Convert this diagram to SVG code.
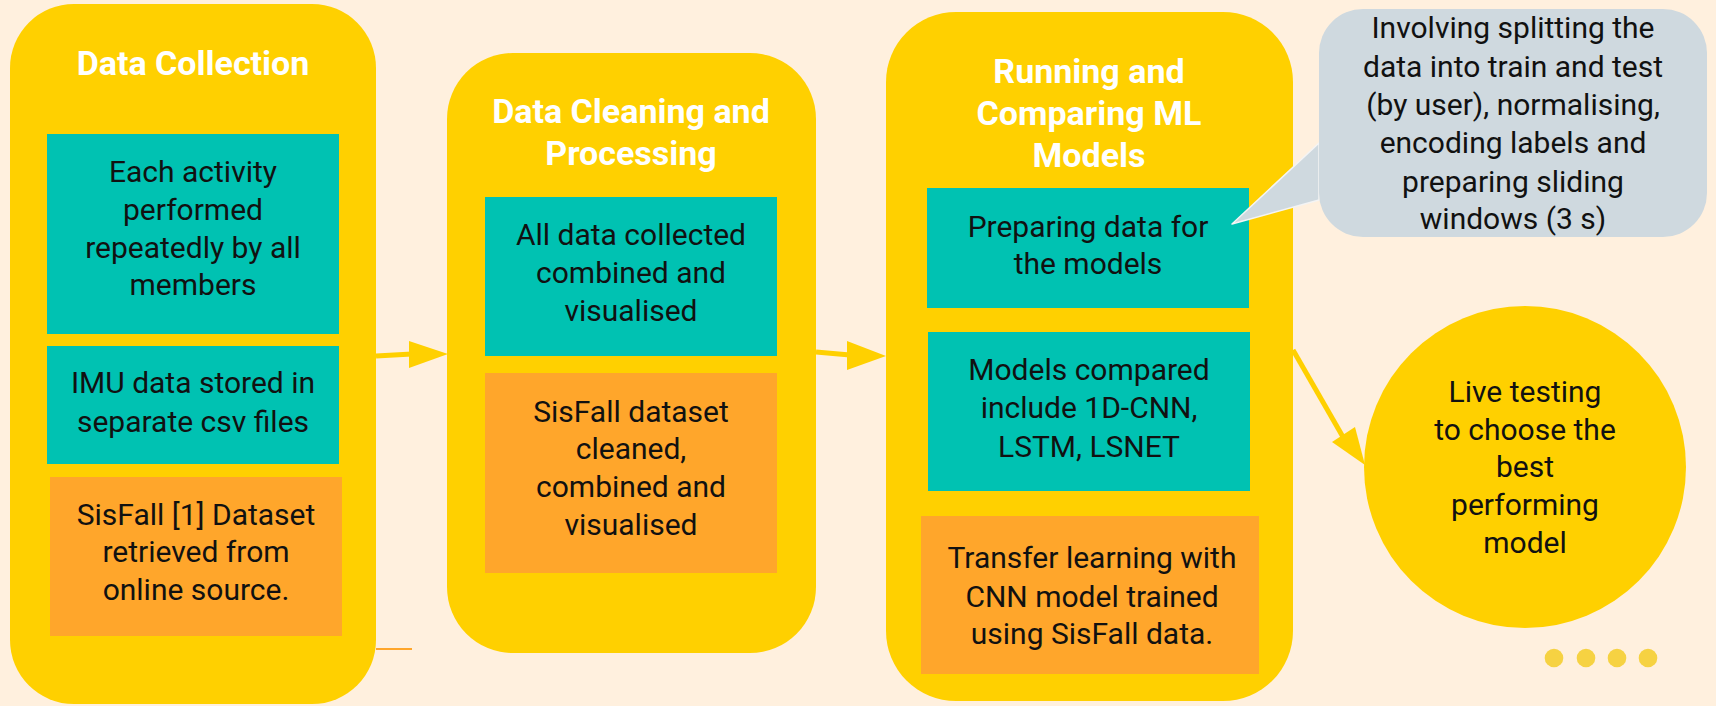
<svg xmlns="http://www.w3.org/2000/svg" width="1716" height="706" viewBox="0 0 1716 706">
<style>
.stage{fill:#ffd000}
.teal{fill:#00c2b2}
.orange{fill:#ffa62b}
.title{font-family:Roboto,"Liberation Sans",sans-serif;font-weight:bold;font-size:34px;fill:#ffffff;text-anchor:middle}
.body{font-family:Roboto,"Liberation Sans",sans-serif;font-size:30px;fill:#111111;text-anchor:middle}
.conn{stroke:#ffd000;stroke-width:5;fill:none}
</style>
<rect width="1716" height="706" fill="#fff0de"/>

<g id="data-collection">
<rect class="stage" x="10" y="4" width="366" height="700" rx="64"/>
<text class="title" x="193" y="75">Data Collection</text>
</g>
<g id="each-activity">
<rect class="teal" x="47" y="134" width="292" height="200"/>
<text class="body" x="193" y="182">Each activity</text>
<text class="body" x="193" y="220">performed</text>
<text class="body" x="193" y="258">repeatedly by all</text>
<text class="body" x="193" y="295">members</text>
</g>
<g id="imu-data">
<rect class="teal" x="47" y="346" width="292" height="118"/>
<text class="body" x="193" y="393">IMU data stored in</text>
<text class="body" x="193" y="432">separate csv files</text>
</g>
<g id="sisfall-retrieved">
<rect class="orange" x="50" y="477" width="292" height="159"/>
<text class="body" x="196" y="525">SisFall [1] Dataset</text>
<text class="body" x="196" y="562">retrieved from</text>
<text class="body" x="196" y="600">online source.</text>
</g>

<g id="data-cleaning">
<rect class="stage" x="447" y="53" width="369" height="600" rx="66"/>
<text class="title" x="631" y="123">Data Cleaning and</text>
<text class="title" x="631" y="165">Processing</text>
</g>
<g id="all-data-combined">
<rect class="teal" x="485" y="197" width="292" height="159"/>
<text class="body" x="631" y="245">All data collected</text>
<text class="body" x="631" y="283">combined and</text>
<text class="body" x="631" y="321">visualised</text>
</g>
<g id="sisfall-cleaned">
<rect class="orange" x="485" y="373" width="292" height="200"/>
<text class="body" x="631" y="422">SisFall dataset</text>
<text class="body" x="631" y="459">cleaned,</text>
<text class="body" x="631" y="497">combined and</text>
<text class="body" x="631" y="535">visualised</text>
</g>

<g id="running-comparing">
<rect class="stage" x="886" y="12" width="407" height="689" rx="70"/>
<text class="title" x="1089" y="83">Running and</text>
<text class="title" x="1089" y="125">Comparing ML</text>
<text class="title" x="1089" y="167">Models</text>
</g>
<g id="preparing-data">
<rect class="teal" x="927" y="188" width="322" height="120"/>
<text class="body" x="1088" y="237">Preparing data for</text>
<text class="body" x="1088" y="274">the models</text>
</g>
<g id="models-compared">
<rect class="teal" x="928" y="332" width="322" height="159"/>
<text class="body" x="1089" y="380">Models compared</text>
<text class="body" x="1089" y="418">include 1D-CNN,</text>
<text class="body" x="1089" y="457">LSTM, LSNET</text>
</g>
<g id="transfer-learning">
<rect class="orange" x="921" y="516" width="338" height="158"/>
<text class="body" x="1092" y="568">Transfer learning with</text>
<text class="body" x="1092" y="607">CNN model trained</text>
<text class="body" x="1092" y="644">using SisFall data.</text>
</g>

<g id="callout">
<path d="M1319,143 L1232,224 L1319,200 Z" fill="#cfd9df" stroke="#f4f4f4" stroke-width="1.5" stroke-linejoin="round"/>
<rect x="1319" y="9" width="388" height="228" rx="44" fill="#cfd9df"/>
<text class="body" x="1513" y="38">Involving splitting the</text>
<text class="body" x="1513" y="77">data into train and test</text>
<text class="body" x="1513" y="115">(by user), normalising,</text>
<text class="body" x="1513" y="153">encoding labels and</text>
<text class="body" x="1513" y="192">preparing sliding</text>
<text class="body" x="1513" y="229">windows (3 s)</text>
</g>

<g id="live-testing">
<circle class="stage" cx="1525" cy="467" r="161"/>
<text class="body" x="1525" y="402">Live testing</text>
<text class="body" x="1525" y="440">to choose the</text>
<text class="body" x="1525" y="477">best</text>
<text class="body" x="1525" y="515">performing</text>
<text class="body" x="1525" y="553">model</text>
</g>

<g id="dots" fill="#f6d242">
<circle cx="1554" cy="658" r="9.3"/>
<circle cx="1586" cy="658" r="9.3"/>
<circle cx="1617" cy="658" r="9.3"/>
<circle cx="1648" cy="658" r="9.3"/>
</g>

<g id="connectors">
<line class="conn" x1="376" y1="356" x2="412" y2="354"/>
<polygon points="409,341 448,354 409,368" fill="#ffd000"/>
<line class="conn" x1="816" y1="352" x2="850" y2="355"/>
<polygon points="847,341 886,356 847,370" fill="#ffd000"/>
<line class="conn" x1="1293" y1="350" x2="1343" y2="437"/>
<polygon points="1332,442 1355,427 1365,465" fill="#ffd000"/>
<line x1="376" y1="649" x2="412" y2="649" stroke="#ffa62b" stroke-width="2"/>
</g>
</svg>
